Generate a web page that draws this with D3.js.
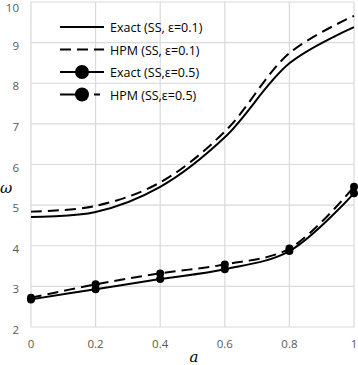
<!DOCTYPE html>
<html>
<head>
<meta charset="utf-8">
<script src="https://cdn.jsdelivr.net/npm/d3@7"></script>
<style>
  body { margin: 0; background: #fff; }
  svg { display: block; }
</style>
</head>
<body>
<div id="chart"></div>
<script>
// data
let aVals = [0, 0.2, 0.4, 0.6, 0.8, 1];
let exact01 = [4.71, 4.83, 5.45, 6.67, 8.49, 9.38];
let hpm01 = [4.84, 4.98, 5.56, 6.81, 8.74, 9.66];
let exact05 = [2.68, 2.93, 3.18, 3.42, 3.87, 5.29];
let hpm05 = [2.72, 3.05, 3.32, 3.54, 3.93, 5.45];
let xTicks = [0, 0.2, 0.4, 0.6, 0.8, 1];
let yTicks = [2, 3, 4, 5, 6, 7, 8, 9, 10];
let legendLabels = ["Exact (SS, ε=0.1)", "HPM (SS, ε=0.1)", "Exact (SS,ε=0.5)", "HPM (SS,ε=0.5)"];

let W = 358, H = 365;
let svg = d3.select("#chart").append("svg")
  .attr("width", W)
  .attr("height", H);

let x = d3.scaleLinear().domain([0, 1]).range([31, 354]);
let y = d3.scaleLinear().domain([2, 10]).range([327, 2]);

// gridlines
svg.append("g").selectAll("line").data(yTicks).join("line")
  .attr("x1", x(0)).attr("x2", x(1))
  .attr("y1", d => y(d)).attr("y2", d => y(d))
  .attr("stroke", "#d9d9d9").attr("stroke-width", 1.2);
svg.append("g").selectAll("line").data(xTicks).join("line")
  .attr("x1", d => x(d)).attr("x2", d => x(d))
  .attr("y1", y(2)).attr("y2", y(10))
  .attr("stroke", "#d9d9d9").attr("stroke-width", 1.2);

// tick labels
svg.append("g").selectAll("text").data(yTicks).join("text")
  .attr("x", 19).attr("y", d => Math.max(y(d), 5) + 4)
  .attr("dominant-baseline", "middle")
  .attr("text-anchor", "end")
  .attr("font-family", "Open Sans, sans-serif").attr("font-size", 11.5)
  .attr("fill", "#595959")
  .text(d => d);
svg.append("g").selectAll("text").data(xTicks).join("text")
  .attr("x", d => x(d)).attr("y", 348)
  .attr("text-anchor", "middle")
  .attr("font-family", "Open Sans, sans-serif").attr("font-size", 11.5)
  .attr("fill", "#595959")
  .text(d => d);

// axis titles
svg.append("text").attr("x", 194).attr("y", 362)
  .attr("text-anchor", "middle")
  .attr("font-family", "DejaVu Serif, serif").attr("font-style", "italic")
  .attr("font-size", 15).text("a");
svg.append("text").attr("x", 6).attr("y", 193)
  .attr("text-anchor", "middle")
  .attr("font-family", "DejaVu Serif, serif").attr("font-style", "italic")
  .attr("font-size", 15).text("ω");

let line = d3.line()
  .x((d, i) => x(aVals[i]))
  .y(d => y(d))
  .curve(d3.curveCatmullRom.alpha(0.5));

let series = [
  {vals: exact01, dash: null, marker: false},
  {vals: hpm01, dash: "11,6", marker: false},
  {vals: exact05, dash: null, marker: true},
  {vals: hpm05, dash: "11,6", marker: true}
];

series.forEach(s => {
  svg.append("path")
    .attr("d", line(s.vals))
    .attr("fill", "none")
    .attr("stroke", "#000")
    .attr("stroke-width", 2)
    .attr("stroke-dasharray", s.dash);
  if (s.marker) {
    svg.append("g").selectAll("circle").data(s.vals).join("circle")
      .attr("cx", (d, i) => x(aVals[i]))
      .attr("cy", d => y(d))
      .attr("r", 4)
      .attr("fill", "#000");
  }
});

// legend
let lg = svg.append("g");
series.forEach((s, i) => {
  let ly = 27 + i * 22.5;
  if (s.marker && s.dash) {
    lg.append("line").attr("x1", 60).attr("x2", 82).attr("y1", ly).attr("y2", ly)
      .attr("stroke", "#000").attr("stroke-width", 2);
    lg.append("line").attr("x1", 94).attr("x2", 100).attr("y1", ly).attr("y2", ly)
      .attr("stroke", "#000").attr("stroke-width", 2);
  } else {
    lg.append("line").attr("x1", 60).attr("x2", 104).attr("y1", ly).attr("y2", ly)
      .attr("stroke", "#000").attr("stroke-width", 2)
      .attr("stroke-dasharray", s.dash);
  }
  if (s.marker) {
    lg.append("circle").attr("cx", 82).attr("cy", ly).attr("r", 7).attr("fill", "#000");
  }
  lg.append("text").attr("x", 110).attr("y", ly + 5)
    .attr("font-family", "Open Sans, sans-serif").attr("font-size", 12.5)
    .attr("fill", "#000")
    .text(legendLabels[i]);
});
</script>
</body>
</html>
